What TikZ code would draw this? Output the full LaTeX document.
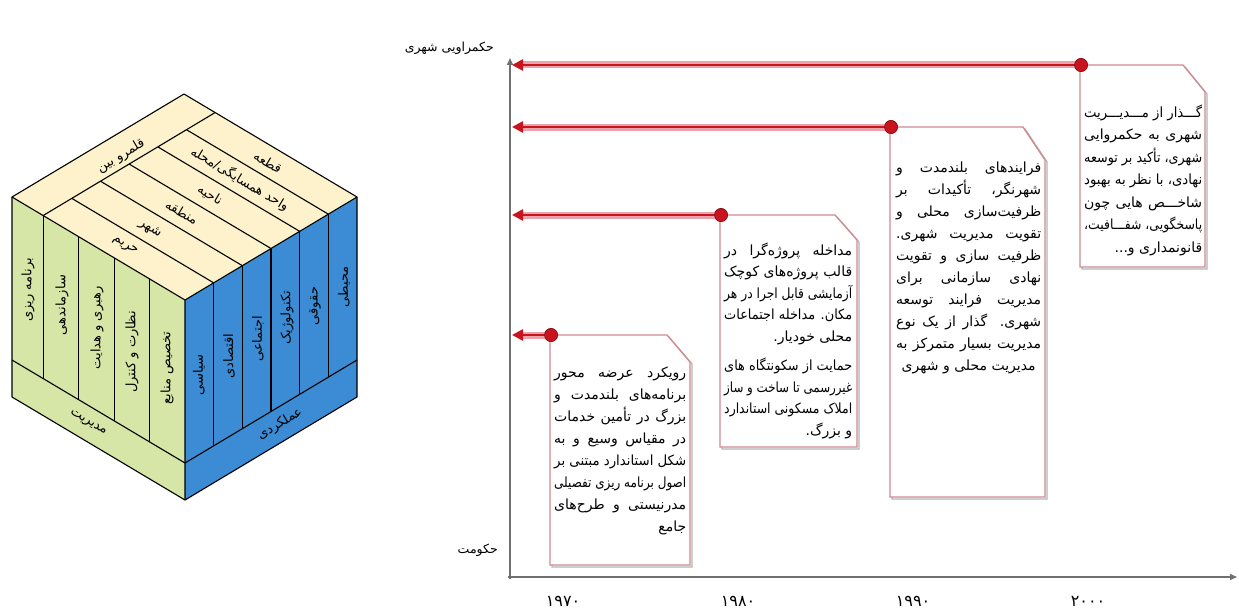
\documentclass[tikz,border=0pt]{standalone}
\usepackage{fontspec}
\usepackage{graphicx}
\usetikzlibrary{arrows.meta,calc}
\TeXXeTstate=1
\newfontfamily\arabicfont[Script=Arabic]{DejaVu Sans}
\definecolor{cgreen}{HTML}{D5E6A6}
\definecolor{cblue}{HTML}{3B8CD4}
\definecolor{ccream}{HTML}{FDF2CB}
\definecolor{ared}{HTML}{C8141E}
\definecolor{ahalo}{HTML}{E9A3AA}
\definecolor{bframe}{HTML}{CF8A93}
\definecolor{bshadow}{HTML}{B4B4B4}
\definecolor{axisgray}{HTML}{707070}
\newsavebox\lnbox
\newdimen\lnw
\newcommand\rtl[1]{\beginR #1\endR}
\newcommand\jl[1]{\setbox\lnbox\hbox{\beginR #1\endR}%
  \ifdim\wd\lnbox>\lnw\relax\hbox to\lnw{\resizebox{\lnw}{\height}{\copy\lnbox}}%
  \else\hbox to\lnw{\beginR #1\endR}\fi}
\newcommand\rl[1]{\hbox to\lnw{\hfil\beginR #1\endR}}
\newcommand\cl[1]{\hbox to\lnw{\hfil\beginR #1\endR\hfil}}
\newcommand\ptext[3]{\vtop{\lnw=#1\relax\baselineskip=#2\relax\lineskiplimit=-30pt\lineskip=0pt #3}}
\begin{document}
\begin{tikzpicture}[x=1pt,y=-1pt,
  cedge/.style={line width=1.1pt, black},
  ctext/.style={font=\arabicfont\fontsize{13}{14}\selectfont, inner sep=0pt},
  btext/.style={font=\arabicfont\fontsize{14}{22}\selectfont, inner sep=0pt, anchor=base west},
  frame/.style={draw=bframe, line width=1.3pt, fill=white},
  shadowst/.style={draw=bshadow, line width=1.3pt},
  halo/.style={ahalo, line width=7pt, shorten >=10pt},
  core/.style={ared, line width=2.6pt, -{Triangle[length=11pt,width=11pt]}},
  dotst/.style={circle, fill=ared, draw=ared!70!black, line width=0.6pt, minimum size=13pt, inner sep=0pt},
  axis/.style={axisgray, line width=1.5pt, -{Triangle[length=7pt,width=6pt]}},
  yr/.style={font=\arabicfont\fontsize{16}{18}\selectfont, inner sep=0pt},
  lab/.style={font=\arabicfont\fontsize{12.5}{14}\selectfont, inner sep=0pt, anchor=east}]
\useasboundingbox (0,0) rectangle (1239,610);
\fill[white] (0,0) rectangle (1239,610);
% ---------------- cube ----------------
\coordinate (F) at (185,300);
\coordinate (L) at (12,197);
\coordinate (R) at (357,197);
\coordinate (T) at (184,94);
\coordinate (Fm) at (185,463);
\coordinate (Lm) at (12,360);
\coordinate (Rm) at (357,360);
\coordinate (Fb) at (185,500);
\coordinate (Lb) at (12,397);
\coordinate (Rb) at (357,397);
\fill[cgreen] (L)--(F)--(Fb)--(Lb)--cycle;
\fill[cblue] (F)--(R)--(Rb)--(Fb)--cycle;
\fill[ccream] (T)--(R)--(F)--(L)--cycle;
\coordinate (Ba) at ($(L)!0.18!(F)$);
\coordinate (Bb) at ($(T)!0.18!(R)$);
\draw[cedge] (Ba)--(Bb);
\foreach \k in {1,...,5} \draw[cedge] ($(Ba)!\k/6!(Bb)$) -- ($(F)!\k/6!(R)$);
\foreach \t in {0.18,0.385,0.59,0.795} \draw[cedge] ($(L)!\t!(F)$) -- ($(Lm)!\t!(Fm)$);
\foreach \k in {1,...,5} \draw[cedge] ($(F)!\k/6!(R)$) -- ($(Fm)!\k/6!(Rm)$);
\draw[cedge] (Lm)--(Fm)--(Rm);
\draw[cedge] (T)--(R)--(Rb)--(Fb)--(Lb)--(L)--cycle;
\draw[cedge] (L)--(F)--(R) (F)--(Fb);
% cube texts
\node[ctext, rotate=90] (c1) at (28,290) {\rtl{برنامه ریزی}};
\node[ctext, rotate=90] (c2) at (62,305) {\rtl{سازماندهی}};
\node[ctext, rotate=90] (c3) at (97,328) {\rtl{رهبری و هدایت}};
\node[ctext, rotate=90] (c4) at (132,352) {\rtl{نظارت و کنترل}};
\node[ctext, rotate=90] (c5) at (167,368) {\rtl{تخصیص منابع}};
\node[ctext, rotate=-30.8] (c6) at (88,423) {\rtl{مدیریت}};
\node[ctext, rotate=90] (r1) at (199,375) {\rtl{سیاسی}};
\node[ctext, rotate=90] (r2) at (229,356) {\rtl{اقتصادی}};
\node[ctext, rotate=90] (r3) at (258,339) {\rtl{اجتماعی}};
\node[ctext, rotate=90] (r4) at (287,318) {\rtl{تکنولوژیک}};
\node[ctext, rotate=90] (r5) at (315,306) {\rtl{حقوقی}};
\node[ctext, rotate=90] (r6) at (344,287) {\rtl{محیطی}};
\node[ctext, rotate=30.8] (r7) at (280,424) {\rtl{عملکردی}};
\node[ctext, rotate=30.8] (t0) at (121,156) {\rtl{قلمرو بین}};
\node[ctext, rotate=-30.8] (t1) at (268,162) {\rtl{قطعه}};
\node[ctext, rotate=-30.8] (t2) at (240,179) {\rtl{واحد همسایگی/محله}};
\node[ctext, rotate=-30.8] (t3) at (210,195) {\rtl{ناحیه}};
\node[ctext, rotate=-30.8] (t4) at (182,212) {\rtl{منطقه}};
\node[ctext, rotate=-30.8] (t5) at (150,229) {\rtl{شهر}};
\node[ctext, rotate=-30.8] (t6) at (125,246) {\rtl{حریم}};
% ---------------- axes ----------------
\coordinate (o) at (510,577);
\coordinate (ytop) at (510,58);
\coordinate (xend) at (1237,577);
\draw[axis] ($(o)+(0,2)$) -- (ytop);
\draw[axis] ($(o)+(-2,0)$) -- (xend);
\node[yr] (y1) at (563,601) {۱۹۷۰};
\node[yr] (y2) at (738,601) {۱۹۸۰};
\node[yr] (y3) at (913,601) {۱۹۹۰};
\node[yr] (y4) at (1088,601) {۲۰۰۰};
\node[lab] (lgov) at (494,48) {\rtl{حکمراویی شهری}};
\node[lab] (lstate) at (498,550) {\rtl{حکومت}};
% ---------------- boxes ----------------
\foreach \s/\p in {shadowst/{(2,2)}, frame/{(0,0)}} {
  \draw[\s, shift=\p] (550,335) -- (667,335) -- (690,362) -- (690,565) -- (550,565) -- cycle;
  \draw[\s, shift=\p] (720,215) -- (835,215) -- (857,240) -- (857,447) -- (720,447) -- cycle;
  \draw[\s, shift=\p] (890,127) -- (1023,127) -- (1045,160) -- (1045,497) -- (890,497) -- cycle;
  \draw[\s, shift=\p] (1080,65) -- (1183,65) -- (1205,92) -- (1205,267) -- (1080,267) -- cycle;
}
% ---------------- arrows ----------------
\node[dotst] (d1) at (1081,65) {};
\node[dotst] (d2) at (891,127) {};
\node[dotst] (d3) at (721,215) {};
\node[dotst] (d4) at (551,335) {};
\coordinate (a1) at (512,65);
\coordinate (a2) at (512,127);
\coordinate (a3) at (512,215);
\coordinate (a4) at (512,335);
\foreach \i in {1,2,3,4} {
  \draw[halo] (d\i.center) -- (a\i);
  \draw[core] (d\i.center) -- (a\i);
}
\foreach \i in {1,2,3,4} \node[dotst] at (d\i) {};
% ---------------- box texts ----------------
\node[btext] (b4) at (554,377) {\ptext{132pt}{22pt}{%
\jl{رویکرد عرضه محور}
\jl{برنامه^^^^200cهای بلندمدت و}
\jl{بزرگ در تأمین خدمات}
\jl{در مقیاس وسیع و به}
\jl{شکل استاندارد مبتنی بر}
\jl{اصول برنامه ریزی تفصیلی}
\jl{مدرنیستی و طرح^^^^200cهای}
\rl{جامع}}};
\node[btext] (b3) at (724,255) {\ptext{128pt}{21.5pt}{%
\jl{مداخله پروژه^^^^200cگرا در}
\jl{قالب پروژه^^^^200cهای کوچک}
\jl{آزمایشی قابل اجرا در هر}
\jl{مکان. مداخله اجتماعات}
\rl{محلی خودیار.}
\vskip 8pt
\jl{حمایت از سکونتگاه های}
\jl{غیررسمی تا ساخت و ساز}
\jl{املاک مسکونی استاندارد}
\rl{و بزرگ.}}};
\node[btext] (b2) at (896,172) {\ptext{145pt}{22pt}{%
\jl{فرایندهای بلندمدت و}
\jl{شهرنگر، تأکیدات بر}
\jl{ظرفیت^^^^200cسازی محلی و}
\jl{تقویت مدیریت شهری.}
\jl{ظرفیت سازی و تقویت}
\jl{نهادی سازمانی برای}
\jl{مدیریت فرایند توسعه}
\jl{شهری. گذار از یک نوع}
\jl{مدیریت بسیار متمرکز به}
\cl{مدیریت محلی و شهری}}};
\node[btext] (b1) at (1084,117) {\ptext{118pt}{22.5pt}{%
\jl{گـــذار از مـــدیـــریت}
\jl{شهری به حکمروایی}
\jl{شهری، تأکید بر توسعه}
\jl{نهادی، با نظر به بهبود}
\jl{شاخـــص هایی چون}
\jl{پاسخگویی، شفـــافیت،}
\rl{قانونمداری و...}}};
\end{tikzpicture}
\end{document}
